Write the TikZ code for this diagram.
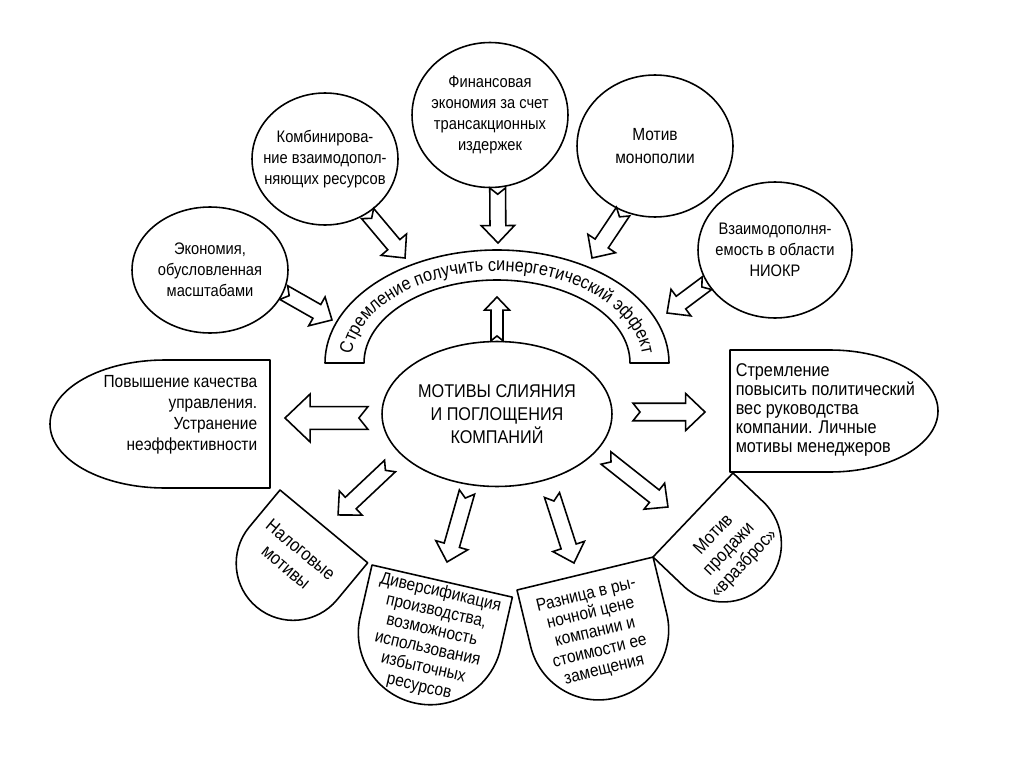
\documentclass[tikz,border=0pt]{standalone}
\usepackage{fontspec}
\setmainfont{Liberation Sans}[FakeStretch=0.88]
\usetikzlibrary{shapes.geometric,decorations.markings,decorations.text}

\begin{document}
\begin{tikzpicture}[x=0.02cm,y=0.02cm,line width=0.9pt,
  txt/.style={align=center,font=\fontsize{9.5}{12}\selectfont,inner sep=0pt},
  circ/.style={draw,ellipse,txt,inner sep=-16pt},
  outline/.style={draw,fill=white,line join=round},
  blockarrow/.style={postaction=decorate,decoration={markings,mark=at position 0 with {
    \draw[fill=white,line join=miter] (0pt,#1) -- ({\pgfdecoratedpathlength-2.2*#1},#1)
      -- ({\pgfdecoratedpathlength-2.2*#1},2.1*#1) -- (\pgfdecoratedpathlength,0pt)
      -- ({\pgfdecoratedpathlength-2.2*#1},-2.1*#1) -- ({\pgfdecoratedpathlength-2.2*#1},-#1)
      -- (0pt,-#1) -- (0.8*#1,0pt) -- cycle;}}},
  blockarrow/.default=4.5pt]
\useasboundingbox (0,0) rectangle (1024,-767);

% motives around the synergy arc
\node[circ,minimum width=3.12cm,minimum height=2.52cm] (scale) at (210,-270) {Экономия,\\обусловленная\\масштабами};
\node[circ,minimum width=2.92cm,minimum height=2.64cm] (combi) at (325,-159) {Комбинирова-\\ние взаимодопол-\\няющих ресурсов};
\node[circ,minimum width=3.12cm,minimum height=2.9cm] (finance) at (490,-115) {Финансовая\\экономия за счет\\трансакционных\\издержек};
\node[circ,minimum width=3.12cm,minimum height=2.84cm,font=\fontsize{10}{13}\selectfont] (monopoly) at (655,-146) {Мотив\\монополии};
\node[circ,minimum width=3.08cm,minimum height=2.72cm] (rnd) at (775,-250) {Взаимодополня-\\емость в области\\НИОКР};

% synergy band
\draw[outline] (325,-363) arc[start angle=180,end angle=0,x radius=172,y radius=113] -- (630,-363)
  arc[start angle=0,end angle=180,x radius=133,y radius=83] -- cycle;
\path[decorate,decoration={text along path,text align=center,
  text={|\fontsize{10.5}{11}\selectfont|Стремление получить синергетический эффект}}]
  (351,-363) arc[start angle=180,end angle=0,x radius=146,y radius=92];

% centre
\node[circ,minimum width=4.6cm,minimum height=2.9cm,font=\fontsize{10.5}{13}\selectfont] (motives) at (497,-414) {МОТИВЫ СЛИЯНИЯ\\И ПОГЛОЩЕНИЯ\\КОМПАНИЙ};

% side boxes
\draw[outline] (270,-360) -- (165,-360) arc[start angle=90,end angle=270,x radius=115,y radius=64] -- (270,-488) -- cycle;
\node[txt,align=right,anchor=east,font=\fontsize{10}{12}\selectfont] (mgmt) at (258,-415) {Повышение качества\\управления.\\Устранение\\неэффективности};
\draw[outline] (730,-350) -- (830,-350) arc[start angle=90,end angle=-90,x radius=108,y radius=61] -- (730,-472) -- cycle;
\node[txt,align=left,anchor=west,font=\fontsize{10.5}{10.8}\selectfont] (polit) at (735,-410) {Стремление\\повысить политический\\вес руководства\\компании. Личные\\мотивы менеджеров};

% petals
\begin{scope}[shift={(280,-490)},rotate=-39.7]
\draw[outline] (0,0) -- (114,0) -- (114,-48) arc[start angle=0,end angle=-180,x radius=57,y radius=57] -- cycle;
\node[txt,rotate=-39.7,font=\fontsize{10.5}{13}\selectfont] (tax) at (54,-44) {Налоговые\\мотивы};
\end{scope}
\begin{scope}[shift={(372,-565)},rotate=-12.9]
\draw[outline] (0,0) -- (144,0) -- (144,-53) arc[start angle=0,end angle=-180,x radius=72,y radius=72] -- cycle;
\node[txt,rotate=-12.9,font=\fontsize{10}{11}\selectfont] (divers) at (73,-60) {Диверсификация\\производства,\\возможность\\использования\\избыточных\\ресурсов};
\end{scope}
\begin{scope}[shift={(517,-590)},rotate=13.6]
\draw[outline] (0,0) -- (140,0) -- (140,-58) arc[start angle=0,end angle=-180,x radius=70,y radius=70] -- cycle;
\node[txt,rotate=13.6,font=\fontsize{10}{11}\selectfont] (price) at (66,-60) {Разница в ры-\\ночной цене\\компании и\\стоимости ее\\замещения};
\end{scope}
\begin{scope}[shift={(653,-557)},rotate=46.4]
\draw[outline] (0,0) -- (116,0) -- (116,-42) arc[start angle=0,end angle=-180,x radius=58,y radius=58] -- cycle;
\node[txt,rotate=46.4,font=\fontsize{10.5}{12}\selectfont] (spread) at (58,-50) {Мотив\\продажи\\«вразброс»};
\end{scope}

% arrow ends
\coordinate (b1) at (332,-320);
\coordinate (b2) at (405,-258);
\coordinate (b3) at (498,-243);
\coordinate (b4) at (592,-258);
\coordinate (b5) at (667,-313);
\coordinate (up) at (497,-297);
\coordinate (l0) at (368,-418);
\coordinate (l1) at (285,-418);
\coordinate (r0) at (633,-412);
\coordinate (r1) at (705,-412);
\coordinate (p1a) at (390,-466);
\coordinate (p1b) at (338,-515);
\coordinate (p2a) at (467,-492);
\coordinate (p2b) at (447,-562);
\coordinate (p3a) at (552,-495);
\coordinate (p3b) at (574,-563);
\coordinate (p4a) at (606,-458);
\coordinate (p4b) at (668,-507);

\path[blockarrow] (scale.-17) -- (b1);
\path[blockarrow] (combi.-52) -- (b2);
\path[blockarrow] (finance.-84) -- (b3);
\path[blockarrow] (monopoly.-116) -- (b4);
\path[blockarrow] (rnd.-154) -- (b5);
\path[blockarrow=3.4pt] (motives.north) -- (up);
\path[blockarrow=6.5pt] (l0) -- (l1);
\path[blockarrow=5pt] (r0) -- (r1);
\path[blockarrow] (p1a) -- (p1b);
\path[blockarrow] (p2a) -- (p2b);
\path[blockarrow] (p3a) -- (p3b);
\path[blockarrow] (p4a) -- (p4b);
\end{tikzpicture}
\end{document}
